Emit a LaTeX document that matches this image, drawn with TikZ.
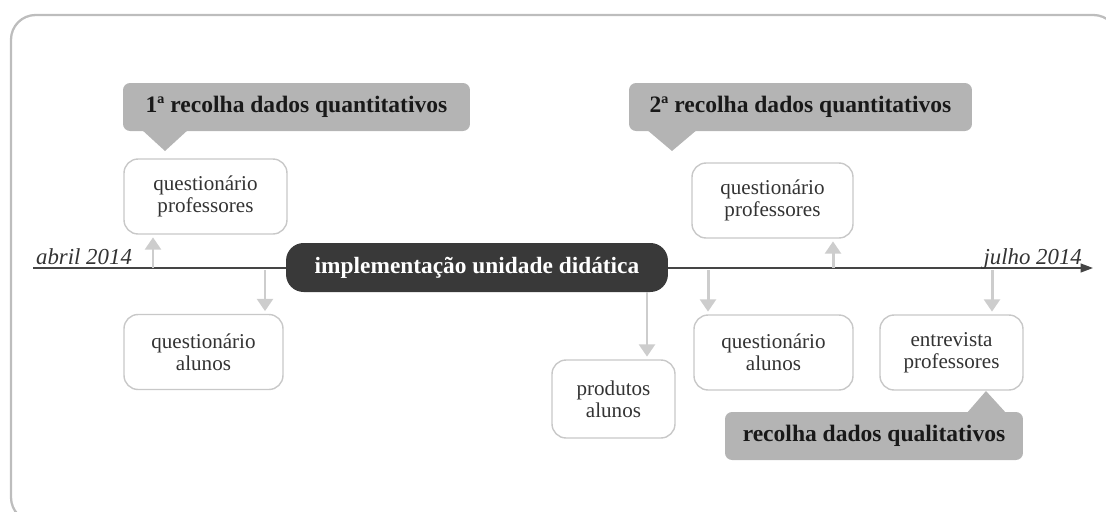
\documentclass[tikz,border=0pt]{standalone}
\usepackage{fontspec}
\setmainfont{Liberation Serif}
\usetikzlibrary{arrows.meta}
\definecolor{framegray}{HTML}{BDBDBD}
\definecolor{boxgray}{HTML}{C8C8C8}
\definecolor{callgray}{HTML}{B4B4B4}
\definecolor{darkbox}{HTML}{393939}
\definecolor{arrowgray}{HTML}{CDCDCD}
\definecolor{linegray}{HTML}{454545}
\definecolor{textgray}{HTML}{333333}
\begin{document}
\begin{tikzpicture}[x=0.02cm,y=-0.02cm,
		infobox/.style={draw=boxgray,line width=0.8pt,rounded corners=8pt,fill=white,align=center,text=textgray,font=\fontsize{12}{12.5}\selectfont,minimum height=1.5cm},
		callout/.style={fill=callgray,rounded corners=4pt,text=black!90,font=\bfseries\fontsize{13.4}{14}\selectfont,minimum height=0.96cm},
		datearrow/.style={draw=arrowgray,line width=1.7pt,-{Triangle[width=9pt,length=7pt]},shorten >=1.5pt},
		datelabel/.style={font=\itshape\fontsize{13}{14}\selectfont,text=textgray,inner sep=1pt}]
		\useasboundingbox (0,0) rectangle (1106,511);
		\draw[framegray,line width=1.3pt,rounded corners=14pt] (11,15) rectangle (1118,522);
		\draw[linegray,line width=0.9pt,-{Triangle[width=5pt,length=7pt]}] (33,268) -- (1093,268);
		\node[datelabel,anchor=base west] (inicio) at (34,264) {abril 2014};
		\node[datelabel,anchor=base east] (fim) at (1084,264) {julho 2014};
		\node[fill=darkbox,rounded corners=10pt,text=white,font=\bfseries\fontsize{13.3}{14}\selectfont,minimum width=7.64cm,minimum height=0.98cm] (impl) at (477,267.5) {implementação unidade didática};
		\node[callout,minimum width=6.94cm] (quant1) at (296.5,107) {1ª recolha dados quantitativos};
		\fill[callgray] (141,129) -- (165,151) -- (189,129) -- cycle;
		\node[callout,minimum width=6.86cm] (quant2) at (800.5,107) {2ª recolha dados quantitativos};
		\fill[callgray] (646,129) -- (672,151) -- (698,129) -- cycle;
		\node[infobox,minimum width=3.26cm] (qprof1) at (205.5,196.5) {questionário\\professores};
		\node[infobox,minimum width=3.18cm] (qalun1) at (203.5,352) {questionário\\alunos};
		\node[infobox,minimum width=3.22cm] (qprof2) at (772.5,200.5) {questionário\\professores};
		\node[infobox,minimum width=3.18cm] (qalun2) at (773.5,352.5) {questionário\\alunos};
		\node[infobox,minimum width=2.46cm,minimum height=1.56cm] (prod) at (613.5,399) {produtos\\alunos};
		\node[infobox,minimum width=2.86cm] (entrev) at (951.5,352.5) {entrevista\\professores};
		\node[callout,minimum width=5.96cm] (quali) at (874,436) {recolha dados qualitativos};
		\fill[callgray] (966,414) -- (986,391) -- (1007,414) -- cycle;
		\coordinate (t1) at (153,268);
		\coordinate (t2) at (265,270);
		\coordinate (t3) at (708,270);
		\coordinate (t4) at (833,268);
		\coordinate (t5) at (992,270);
		\coordinate (t6) at (647,292);
		\draw[datearrow] (t1) -- (t1 |- qprof1.south);
		\draw[datearrow] (t2) -- (t2 |- qalun1.north);
		\draw[datearrow] (t3) -- (t3 |- qalun2.north);
		\draw[datearrow] (t4) -- (t4 |- qprof2.south);
		\draw[datearrow] (t5) -- (t5 |- entrev.north);
		\draw[datearrow] (t6) -- (t6 |- prod.north);
	\end{tikzpicture}
\end{document}
